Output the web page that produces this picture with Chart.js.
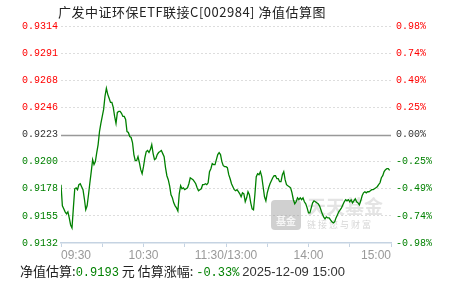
<!DOCTYPE html>
<html>
<head>
<meta charset="utf-8">
<script src="https://cdn.jsdelivr.net/npm/chart.js@4/dist/chart.umd.min.js"></script>
<style>
  html, body { margin: 0; padding: 0; background: #fff; }
  #wrap { position: relative; width: 451px; height: 281px; overflow: hidden; }
  #title { position: absolute; left: 58px; top: 3px; font: 13px "Noto Sans CJK SC", sans-serif; color: #222; white-space: nowrap; line-height: 17px; letter-spacing: 0.5px; }
  #info { position: absolute; left: 20px; top: 262px; font: 13px "Noto Sans CJK SC", sans-serif; color: #222; white-space: nowrap; line-height: 17px; }
  .g { color: #008000; }
  .mono { font: 12px "Liberation Mono", monospace; }
  .sans { font: 13px "Liberation Sans", Arial, sans-serif; color: #333; }
  canvas { position: absolute; left: 0; top: 0; }
</style>
</head>
<body>
<div id="wrap">
  <canvas id="myChart" width="451" height="281"></canvas>
  <div id="title">广发中证环保ETF联接C[002984] 净值估算图</div>
  <div id="info">净值估算:<span class="g mono">0.9193</span> 元 估算涨幅: <span class="g mono">-0.33%</span> <span class="sans">2025-12-09 15:00</span></div>
</div>
<script>
// 09:30-11:30 + 13:00-15:00, one value per minute
const navValues = [
  0.91810, 0.91633, 0.91608, 0.91583, 0.91566, 0.91583, 0.91532, 0.91473, 0.91448, 0.91616,
  0.91776, 0.91784, 0.91768, 0.91810, 0.91818, 0.91793, 0.91768, 0.91692, 0.91600, 0.91633,
  0.91726, 0.91826, 0.91919, 0.92020, 0.91978, 0.92003, 0.92079, 0.92146, 0.92255, 0.92323,
  0.92381, 0.92440, 0.92550, 0.92617, 0.92566, 0.92533, 0.92499, 0.92499, 0.92457, 0.92381,
  0.92323, 0.92415, 0.92423, 0.92423, 0.92407, 0.92381, 0.92381, 0.92356, 0.92255, 0.92247,
  0.92213, 0.92205, 0.92163, 0.92062, 0.92011, 0.92011, 0.92045, 0.91995, 0.91936, 0.91902,
  0.91961, 0.92037, 0.92087, 0.92096, 0.92079, 0.92104, 0.92146, 0.92070, 0.92020, 0.92028,
  0.92062, 0.92079, 0.92087, 0.92096, 0.92070, 0.92045, 0.91953, 0.91885, 0.91852, 0.91801,
  0.91726, 0.91700, 0.91658, 0.91633, 0.91616, 0.91591, 0.91734, 0.91801, 0.91776, 0.91784,
  0.91768, 0.91776, 0.91784, 0.91818, 0.91868, 0.91860, 0.91852, 0.91835, 0.91818, 0.91784,
  0.91759, 0.91768, 0.91776, 0.91810, 0.91810, 0.91818, 0.91810, 0.91826, 0.91919, 0.91944,
  0.91986, 0.91978, 0.91978, 0.92020, 0.92062, 0.92079, 0.92062, 0.92003, 0.91969, 0.91961,
  0.91961, 0.91953, 0.91894, 0.91860, 0.91818, 0.91793, 0.91768, 0.91759, 0.91768, 0.91751,
  0.91734, 0.91709, 0.91742, 0.91734, 0.91667, 0.91700, 0.91751, 0.91726, 0.91658, 0.91608,
  0.91600, 0.91726, 0.91877, 0.91902, 0.91894, 0.91919, 0.91877, 0.91793, 0.91709, 0.91675,
  0.91742, 0.91784, 0.91818, 0.91843, 0.91868, 0.91885, 0.91885, 0.91860, 0.91860, 0.91835,
  0.91835, 0.91894, 0.91919, 0.91852, 0.91810, 0.91801, 0.91793, 0.91784, 0.91742, 0.91684,
  0.91650, 0.91667, 0.91700, 0.91684, 0.91700, 0.91684, 0.91700, 0.91667, 0.91650, 0.91616,
  0.91574, 0.91574, 0.91616, 0.91658, 0.91675, 0.91667, 0.91658, 0.91650, 0.91633, 0.91600,
  0.91566, 0.91541, 0.91524, 0.91541, 0.91532, 0.91532, 0.91515, 0.91499, 0.91490, 0.91499,
  0.91532, 0.91557, 0.91583, 0.91600, 0.91616, 0.91642, 0.91667, 0.91684, 0.91675, 0.91684,
  0.91667, 0.91684, 0.91658, 0.91675, 0.91692, 0.91667, 0.91658, 0.91642, 0.91675, 0.91717,
  0.91742, 0.91751, 0.91742, 0.91751, 0.91751, 0.91759, 0.91768, 0.91768, 0.91776, 0.91784,
  0.91793, 0.91810, 0.91826, 0.91868, 0.91885, 0.91919, 0.91936, 0.91944, 0.91944, 0.91930
];

const baseNav = 0.9223;
const tickValues = [0.91322, 0.91549, 0.91776, 0.92003, 0.9223, 0.92457, 0.92684, 0.92911, 0.93138];
const leftTickLabels = ["0.9132", "0.9155", "0.9178", "0.9200", "0.9223", "0.9246", "0.9268", "0.9291", "0.9314"];
const rightTickLabels = ["-0.98%", "-0.74%", "-0.49%", "-0.25%", "0.00%", "0.25%", "0.49%", "0.74%", "0.98%"];
const timeLabels = ["09:30", "10:30", "11:30/13:00", "14:00", "15:00"];

const points = navValues.map((v, i) => ({ x: i, y: v }));

function tickColor(ctx) {
  const v = tickValues[ctx.index];
  if (Math.abs(v - baseNav) < 1e-6) return "#333";
  return v > baseNav ? "#ff0000" : "#008000";
}

const zeroLine = {
  id: "zeroLine",
  beforeDatasetsDraw(chart) {
    const c = chart.ctx, a = chart.chartArea;
    const y = Math.round(chart.scales.y.getPixelForValue(baseNav)) + 0.5;
    c.save();
    c.strokeStyle = "#999";
    c.lineWidth = 1.5;
    c.beginPath();
    c.moveTo(a.left, y);
    c.lineTo(a.right, y);
    c.stroke();
    // watermark
    c.fillStyle = "rgba(150,150,150,0.45)";
    const bx = a.left + 210, by = a.top + 174;
    c.beginPath();
    c.roundRect(bx, by, 30, 30, 4);
    c.fill();
    c.fillStyle = "rgba(255,255,255,0.8)";
    c.font = "bold 10px 'Noto Sans CJK SC'";
    c.textAlign = "center";
    c.textBaseline = "middle";
    c.fillText("基金", bx + 15, by + 21);
    c.fillStyle = "rgba(120,120,120,0.2)";
    c.font = "bold 19px 'Noto Sans CJK SC'";
    c.textAlign = "left";
    c.fillText("天天基金", a.left + 246, a.top + 181);
    c.font = "9px 'Noto Sans CJK SC'";
    c.fillStyle = "rgba(120,120,120,0.3)";
    c.fillText("链 接 您 与 财 富", a.left + 246, a.top + 199);
    c.restore();
  }
};

const config = {
  type: "line",
  data: {
    datasets: [{
      data: points,
      borderColor: "#008000",
      borderWidth: 1.3,
      pointRadius: 0,
      tension: 0,
      fill: false
    }]
  },
  options: {
    responsive: false,
    animation: false,
    layout: { padding: { top: 26, left: 0, right: 0, bottom: 0 } },
    plugins: { legend: { display: false }, tooltip: { enabled: false } },
    scales: {
      x: {
        type: "linear",
        min: 0,
        max: 240,
        afterBuildTicks: (s) => { s.ticks = [0, 30, 60, 90, 120, 150, 180, 210, 240].map(v => ({ value: v })); },
        afterFit: (s) => { s.height = 38; },
        grid: { drawOnChartArea: false, drawTicks: true, tickLength: 4, color: "#c5d3e2" },
        border: { color: "#c5d3e2", width: 1.5 },
        ticks: {
          align: "inner",
          autoSkip: false,
          maxRotation: 0,
          padding: 1,
          color: "#999",
          font: { family: "Liberation Sans", size: 12 },
          callback: (v) => (v % 60 === 0 ? timeLabels[v / 60] : "")
        }
      },
      y: {
        position: "left",
        min: tickValues[0],
        max: tickValues[tickValues.length - 1],
        afterBuildTicks: (s) => { s.ticks = tickValues.map(v => ({ value: v })); },
        afterFit: (s) => { s.width = 61; },
        grid: {
          drawTicks: false,
          lineWidth: 1,
          color: (ctx) => (ctx.index === 0 || ctx.index === 4 ? "rgba(0,0,0,0)" : "#dddddd")
        },
        border: { display: false, dash: [2, 2] },
        ticks: {
          padding: 3,
          color: tickColor,
          font: { family: "Liberation Mono", size: 10 },
          callback: (v, i) => leftTickLabels[i]
        }
      },
      y2: {
        position: "right",
        min: tickValues[0],
        max: tickValues[tickValues.length - 1],
        afterBuildTicks: (s) => { s.ticks = tickValues.map(v => ({ value: v })); },
        afterFit: (s) => { s.width = 60; },
        grid: { display: false, drawTicks: false },
        border: { display: false },
        ticks: {
          padding: 5,
          color: tickColor,
          font: { family: "Liberation Mono", size: 10 },
          callback: (v, i) => rightTickLabels[i]
        }
      }
    }
  },
  plugins: [zeroLine]
};

const myChart = new Chart(document.getElementById("myChart"), config);
</script>
</body>
</html>
